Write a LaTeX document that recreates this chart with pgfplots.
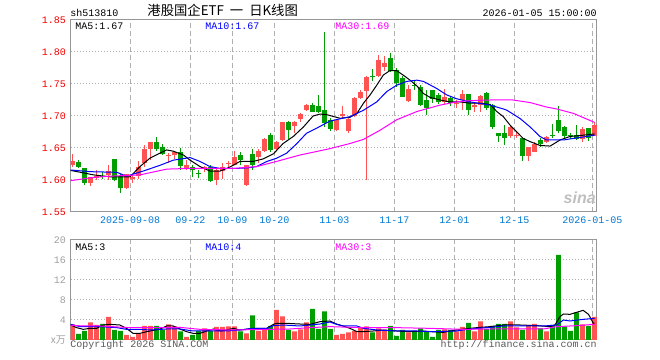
\documentclass[border=0pt]{standalone}
\usepackage{fontspec}
\setmainfont{Liberation Mono}
\newfontfamily\cjk{Noto Sans CJK SC}
\newfontfamily\sans{Liberation Sans}
\usepackage{pgfplots}
\usepackage{pgfplotstable}
\pgfplotsset{compat=1.18}
\definecolor{upred}{RGB}{255,82,82}
\definecolor{dngreen}{RGB}{0,158,0}
\definecolor{lblred}{RGB}{240,0,0}
\definecolor{dateblue}{RGB}{0,120,210}
\definecolor{gridgray}{RGB}{175,175,175}
\definecolor{axgray}{RGB}{150,150,150}
\definecolor{volgray}{RGB}{160,160,160}
\definecolor{ma10}{RGB}{0,0,255}
\definecolor{ma30}{RGB}{255,0,255}
\newcommand\tf{\fontsize{7.5}{9}\selectfont}

\pgfplotstableread{
k O H L C V u
0 1.623 1.640 1.621 1.629 3.1 1
1 1.628 1.631 1.618 1.620 1.2 0
2 1.618 1.619 1.592 1.596 1.8 0
3 1.596 1.605 1.591 1.604 3.5 1
4 1.603 1.615 1.600 1.606 3.0 1
5 1.607 1.613 1.602 1.605 3.2 0
6 1.608 1.623 1.600 1.614 4.6 1
7 1.633 1.633 1.598 1.600 2.0 0
8 1.606 1.610 1.580 1.588 1.8 0
9 1.588 1.610 1.586 1.609 1.0 1
10 1.601 1.610 1.595 1.604 0.6 1
11 1.606 1.630 1.601 1.620 1.3 1
12 1.626 1.654 1.621 1.649 2.8 1
13 1.649 1.660 1.631 1.659 2.8 1
14 1.659 1.667 1.646 1.648 2.8 0
15 1.652 1.657 1.639 1.640 2.0 0
16 1.637 1.642 1.627 1.6385 3.1 1
17 1.639 1.644 1.633 1.643 2.7 1
18 1.643 1.650 1.615 1.622 1.7 0
19 1.618 1.631 1.616 1.623 0.6 1
20 1.621 1.623 1.605 1.615 1.0 0
21 1.6115 1.615 1.603 1.610 1.8 0
22 1.617 1.622 1.612 1.620 2.3 1
23 1.621 1.624 1.597 1.598 1.8 0
24 1.600 1.618 1.592 1.615 2.6 1
25 1.614 1.626 1.601 1.621 2.6 1
26 1.6245 1.629 1.620 1.626 2.7 1
27 1.624 1.645 1.623 1.636 2.7 1
28 1.639 1.643 1.623 1.631 1.7 0
29 1.592 1.624 1.590 1.623 1.3 1
30 1.641 1.648 1.616 1.623 4.9 0
31 1.636 1.648 1.626 1.646 1.8 1
32 1.646 1.665 1.644 1.664 2.2 1
33 1.670 1.673 1.644 1.647 2.8 0
34 1.648 1.661 1.647 1.660 6.0 1
35 1.662 1.691 1.661 1.691 4.7 1
36 1.691 1.692 1.664 1.678 2.0 0
37 1.684 1.692 1.673 1.691 1.7 1
38 1.695 1.704 1.691 1.703 2.1 1
39 1.710 1.718 1.708 1.717 3.5 1
40 1.717 1.720 1.706 1.707 6.2 0
41 1.715 1.733 1.705 1.707 2.2 0
42 1.709 1.831 1.683 1.689 5.7 0
43 1.693 1.697 1.676 1.680 2.2 0
44 1.678 1.696 1.676 1.693 1.0 1
45 1.700 1.715 1.696 1.703 1.2 1
46 1.676 1.698 1.673 1.696 1.5 1
47 1.700 1.729 1.699 1.728 1.8 1
48 1.728 1.741 1.727 1.738 2.5 1
49 1.739 1.762 1.600 1.761 2.7 1
50 1.762 1.774 1.754 1.7605 1.5 0
51 1.762 1.795 1.761 1.788 2.3 1
52 1.776 1.794 1.770 1.783 2.0 1
53 1.790 1.799 1.769 1.770 2.8 0
54 1.772 1.775 1.746 1.751 0.8 0
55 1.759 1.762 1.729 1.730 2.0 0
56 1.723 1.748 1.722 1.742 1.5 1
57 1.749 1.756 1.741 1.7475 1.8 0
58 1.746 1.748 1.715 1.717 2.3 0
59 1.725 1.740 1.702 1.712 1.7 0
60 1.740 1.741 1.720 1.726 0.6 0
61 1.733 1.736 1.719 1.722 2.0 0
62 1.722 1.742 1.718 1.729 2.1 1
63 1.728 1.731 1.715 1.721 2.0 0
64 1.719 1.725 1.712 1.7205 1.7 1
65 1.725 1.740 1.709 1.734 2.6 1
66 1.734 1.735 1.702 1.709 3.4 0
67 1.714 1.720 1.706 1.717 1.7 1
68 1.717 1.733 1.707 1.731 3.7 1
69 1.736 1.737 1.709 1.712 2.2 0
70 1.717 1.718 1.680 1.683 2.8 0
71 1.673 1.674 1.660 1.668 3.2 0
72 1.674 1.686 1.655 1.666 3.2 0
73 1.668 1.684 1.666 1.683 3.7 1
74 1.669 1.677 1.666 1.6705 2.5 1
75 1.665 1.666 1.630 1.638 2.0 0
76 1.638 1.652 1.629 1.651 3.0 1
77 1.644 1.660 1.643 1.657 3.2 1
78 1.6625 1.665 1.652 1.656 2.3 0
79 1.660 1.668 1.658 1.667 1.7 1
80 1.671 1.687 1.665 1.6695 3.0 0
81 1.694 1.715 1.673 1.676 17.0 0
82 1.683 1.684 1.665 1.668 2.7 0
83 1.671 1.673 1.664 1.6695 1.8 0
84 1.670 1.686 1.662 1.664 5.5 0
85 1.664 1.683 1.660 1.679 3.1 1
86 1.681 1.682 1.661 1.665 2.8 0
87 1.669 1.690 1.668 1.686 4.6 1
}\kdata

\pgfplotsset{
  kbase/.style={
    scale only axis, anchor=south west, width=394.7pt,
    xmin=-0.3, xmax=87.4,
    axis line style={draw=axgray, line width=0.75pt},
    major tick length=0pt,
    xtick={9.63,19.63,26.63,33.63,43.63,53.63,63.63,73.63,86.63},
    xmajorgrids, ymajorgrids,
    x grid style={draw=gridgray, line width=0.75pt, dash pattern=on 3.75pt off 2.25pt},
    y grid style={draw=gridgray, line width=0.75pt, dash pattern=on 0.75pt off 1.5pt},
    tick label style={font=\tf},
    clip=true,
  },
  wick/.style={draw=none, mark=none, forget plot,
    error bars/.cd, y dir=plus, y explicit, error mark=none,
    error bar style={draw=#1, solid, line width=0.75pt}, /pgfplots/.cd},
  body/.style={draw=none, mark=none, forget plot,
    error bars/.cd, y dir=plus, y explicit, error mark=none,
    error bar style={draw=#1, solid, line width=3.4pt}, /pgfplots/.cd},
}

\begin{document}
\begin{tikzpicture}
\path[use as bounding box] (0,0) rectangle (495pt,270pt);

% ---------------- price panel ----------------
\begin{axis}[kbase,
  at={(53pt,111pt)}, height=144pt,
  ymin=1.55, ymax=1.85,
  ytick={1.55,1.6,1.65,1.7,1.75,1.8,1.85},
  yticklabels={1.55,1.60,1.65,1.70,1.75,1.80,1.85},
  xticklabels={2025-09-08,09-22,10-09,10-20,11-03,11-17,12-01,12-15,2026-01-05},
  yticklabel style={text=lblred},
  xticklabel style={text=dateblue},
]
\addplot[restrict expr to domain={\thisrow{u}}{0.5:1.5}, wick=upred]
  table[x=k, y=L, y error expr=\thisrow{H}-\thisrow{L}] {\kdata};
\addplot[restrict expr to domain={\thisrow{u}}{-0.5:0.5}, wick=dngreen]
  table[x=k, y=L, y error expr=\thisrow{H}-\thisrow{L}] {\kdata};
\addplot[restrict expr to domain={\thisrow{u}}{0.5:1.5}, body=upred]
  table[x=k, y expr={min(\thisrow{O},\thisrow{C})}, y error expr={abs(\thisrow{C}-\thisrow{O})}] {\kdata};
\addplot[restrict expr to domain={\thisrow{u}}{-0.5:0.5}, body=dngreen]
  table[x=k, y expr={min(\thisrow{O},\thisrow{C})}, y error expr={abs(\thisrow{C}-\thisrow{O})}] {\kdata};
% MA5
\addplot[black, line width=0.75pt, mark=none] coordinates {
(-0.3,1.615) (3.5,1.608) (6.25,1.605) (9.6,1.605) (11.25,1.621) (12.9,1.634) (14.6,1.642) (15.7,1.647) (16.8,1.645) (18.5,1.639) (19.6,1.631) (21.25,1.621) (22.9,1.614) (24.6,1.614) (25.7,1.618) (26.8,1.623) (27.9,1.629) (30.1,1.629) (31.8,1.633) (33.5,1.641) (35.1,1.657) (36.8,1.668) (38.5,1.683) (40.1,1.700) (41.25,1.703) (42.4,1.702) (44.6,1.6964) (46.25,1.698) (47.4,1.704) (48.5,1.720) (49.6,1.733) (50.7,1.748) (51.8,1.764) (52.9,1.771) (54.0,1.771) (55.1,1.764) (56.25,1.756) (57.4,1.747) (58.5,1.735) (59.6,1.729) (61.25,1.725) (62.9,1.722) (64.6,1.722) (66.25,1.720) (67.9,1.720) (69.6,1.718) (70.7,1.707) (71.8,1.699) (72.9,1.686) (75.1,1.665) (76.25,1.660) (77.9,1.654) (79.6,1.653) (81.25,1.6625) (82.9,1.668) (85.1,1.670) (87,1.672)};
% MA10
\addplot[ma10, line width=0.75pt, mark=none] coordinates {
(-0.3,1.6156) (3,1.613) (7.4,1.612) (9.0,1.606) (11.8,1.614) (14.6,1.623) (16.8,1.631) (19.6,1.635) (21.25,1.629) (22.9,1.621) (24.6,1.618) (27,1.618) (29.3,1.619) (30.7,1.621) (32.4,1.629) (34.0,1.634) (35.7,1.642) (37.4,1.657) (39.0,1.673) (40.7,1.681) (42.9,1.692) (46.25,1.699) (48.5,1.709) (50.7,1.722) (52.35,1.738) (54.0,1.748) (55.7,1.754) (57.4,1.756) (58.5,1.754) (60.7,1.743) (62.35,1.733) (64.0,1.727) (66.25,1.722) (69.6,1.717) (71.8,1.711) (72.4,1.709) (74.6,1.696) (76.25,1.683) (77.9,1.668) (79.0,1.6625) (81.8,1.6625) (83.5,1.665) (85.7,1.668) (87,1.670)};
% MA30
\addplot[ma30, line width=0.75pt, mark=none] coordinates {
(-0.3,1.599) (3.5,1.604) (6.25,1.606) (11.25,1.608) (15.7,1.617) (19.0,1.618) (23.5,1.618) (26.8,1.618) (30.7,1.621) (34.0,1.629) (37.9,1.639) (42.9,1.649) (46.25,1.657) (48.5,1.6635) (51.3,1.678) (54.0,1.694) (57.4,1.707) (61.25,1.717) (64.0,1.722) (66.25,1.724) (69.6,1.725) (73.4,1.725) (76.25,1.721) (79,1.714) (80.7,1.711) (83.5,1.704) (86.25,1.693) (87,1.690)};
\end{axis}

% ---------------- volume panel ----------------
\begin{axis}[kbase,
  at={(53pt,15pt)}, height=75pt,
  ymin=0, ymax=20,
  ytick={0,4,8,12,16,20},
  yticklabels={{\cjk x万},4,8,12,16,20},
  xticklabels={},
  yticklabel style={text=volgray},
]
\addplot[ybar, bar width=3.5pt, bar shift=0pt, fill=upred, draw=none, forget plot,
  restrict expr to domain={\thisrow{u}}{0.5:1.5}] table[x=k, y=V] {\kdata};
\addplot[ybar, bar width=3.5pt, bar shift=0pt, fill=dngreen, draw=none, forget plot,
  restrict expr to domain={\thisrow{u}}{-0.5:0.5}] table[x=k, y=V] {\kdata};
% MA5
\addplot[black, line width=0.75pt, mark=none] coordinates {
(-0.3,3.0) (0.7,2.47) (1.8,2.13) (2.9,2.33) (4.0,2.33) (5.1,3.0) (6.25,3.13) (7.9,3.0) (9.0,2.33) (10.1,1.33) (11.25,1.33) (12.4,1.67) (14.6,2.2) (15.7,2.8) (16.8,2.8) (17.9,2.2) (19.0,1.67) (20.1,1.33) (21.25,1.33) (22.4,1.8) (23.5,2.2) (24.6,1.8) (25.7,2.0) (26.8,2.33) (27.9,2.0) (30.1,2.33) (32.4,2.33) (33.5,3.13) (34.0,3.33) (35.7,3.33) (37.9,3.2) (39.6,3.13) (41.25,3.67) (42.9,3.8) (44.0,3.2) (45.1,2.8) (46.25,2.33) (47.4,1.67) (48.5,1.67) (50.1,1.8) (51.8,2.0) (54.0,1.8) (56.25,1.67) (58.5,1.8) (59.6,1.67) (61.8,1.53) (64.0,2.0) (66.25,2.33) (67.9,2.53) (69.6,2.67) (71.8,3.0) (74.6,3.0) (77.4,2.87) (79.6,2.67) (80.4,3.0) (81.25,4.67) (81.8,5.2) (82.9,5.13) (84,5.53) (85.1,5.93) (86,5.13) (86.8,3.33) (87,3.4)};
% MA10
\addplot[ma10, line width=0.75pt, mark=none] coordinates {
(-0.3,3.13) (1.25,2.67) (4.6,2.67) (7.4,2.47) (9.0,2.13) (11.25,2.13) (12.9,2.0) (15.7,2.2) (17.9,2.2) (20.1,1.8) (22.4,1.8) (25.7,1.8) (27.9,2.0) (30.1,2.33) (32.4,2.33) (33.5,2.87) (35.1,3.0) (37.9,2.8) (39.6,3.0) (41.25,3.2) (42.9,3.6) (44.0,3.13) (45.1,2.8) (47.4,2.8) (48.5,2.33) (50.7,2.0) (54.0,1.8) (57.4,1.8) (59.6,1.67) (64.0,1.8) (65.1,2.0) (67.4,2.33) (69.6,2.53) (71.8,2.8) (76.25,2.8) (78.5,2.8) (80.7,3.0) (81.8,4.0) (82.9,3.8) (85.1,4.13) (87,4.33)};
% MA30
\addplot[ma30, line width=0.75pt, mark=none] coordinates {
(-0.3,2.87) (4.6,2.8) (9.6,2.47) (12.9,2.47) (17.9,2.53) (21.25,2.13) (26.8,2.0) (32.4,2.13) (36.25,2.2) (39.6,2.47) (42.9,2.67) (48.5,2.47) (54.0,2.47) (59.6,2.33) (65.1,2.13) (69.6,2.2) (74.0,2.2) (78.5,2.2) (80.7,2.67) (84.0,2.87) (87,3.13)};
\end{axis}

% ---------------- texts ----------------
\begin{scope}[every node/.style={inner sep=0pt, font=\tf}]
\node[anchor=base west] at (52.5pt,257.3pt) {sh513810};
\node[anchor=base, font=\cjk\fontsize{10}{12}\selectfont] at (167pt,258.2pt) {港股国企ETF\hspace{0.45em}一\hspace{0.45em}日K线图};
\node[anchor=base east] at (447.75pt,257.3pt) {2026-01-05 15:00:00};
\node[anchor=base west] at (56.25pt,247.5pt) {MA5:1.67};
\node[anchor=base west, text=ma10] at (153.75pt,247.5pt) {MA10:1.67};
\node[anchor=base west, text=ma30] at (251.25pt,247.5pt) {MA30:1.69};
\node[anchor=base west] at (56.25pt,82pt) {MA5:3};
\node[anchor=base west, text=ma10] at (153.75pt,82pt) {MA10:4};
\node[anchor=base west, text=ma30] at (251.25pt,82pt) {MA30:3};
\node[anchor=base west, text=black!65] at (52.5pt,9pt) {Copyright 2026 SINA.COM};
\node[anchor=base east, text=black!65] at (447.75pt,9pt) {http://finance.sina.com.cn};
\node[anchor=base east, text=black!25, font=\sans\bfseries\itshape\fontsize{12}{12}\selectfont] at (447pt,117pt) {sina};
\end{scope}
\end{tikzpicture}
\end{document}
